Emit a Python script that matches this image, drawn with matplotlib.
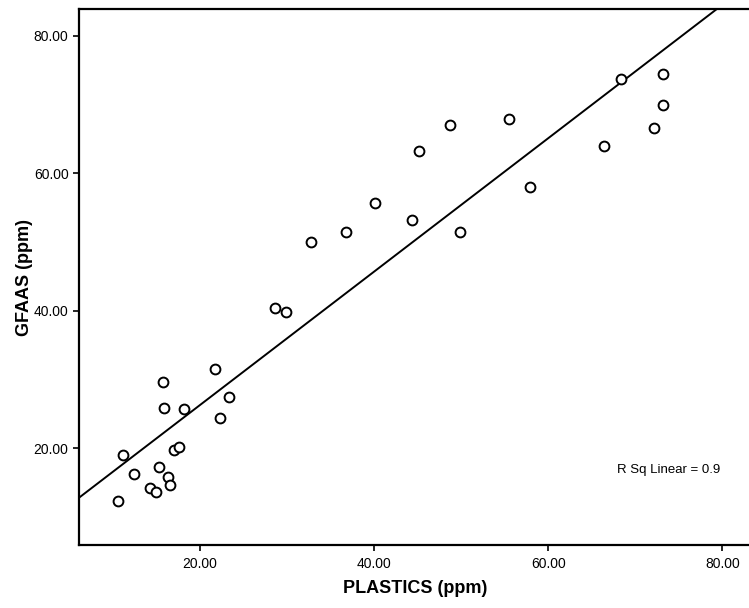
import numpy as np
import matplotlib
matplotlib.use("Agg")
import matplotlib.pyplot as plt
from matplotlib.ticker import FormatStrFormatter

plastics = [10.6, 11.2, 12.4, 14.2, 15.0, 15.3, 16.3, 16.5, 17.0, 17.6,
            15.7, 15.9, 18.2, 22.3, 23.3, 21.7,
            28.6, 29.85, 32.8, 36.8, 40.15, 44.4, 45.2, 48.7, 49.9, 55.5, 57.9,
            66.4, 68.4, 72.2, 73.2, 73.2]
gfaas = [12.3, 19.0, 16.2, 14.2, 13.6, 17.3, 15.8, 14.6, 19.7, 20.2,
         29.7, 25.8, 25.7, 24.4, 27.4, 31.6,
         40.4, 39.9, 50.05, 51.5, 55.7, 53.2, 63.2, 67.1, 51.4, 67.9, 58.05,
         64.0, 73.7, 66.6, 69.9, 74.5]
ticks = [20, 40, 60, 80]
r2_label = "R Sq Linear = 0.9"

plt.rcParams['font.family'] = ['Liberation Sans', 'DejaVu Sans']

fig = plt.figure(figsize=(7.49, 6.08), dpi=100)
ax = fig.add_axes([79/749, 63/608, 672/749, 536/608])

x = np.array(plastics)
y = np.array(gfaas)
xlim = (6.1, 83.3)
ylim = (5.94, 83.9)

ax.scatter(x, y, s=50, facecolors='white', edgecolors='black', linewidths=1.4, zorder=3)

m, b = np.polyfit(x, y, 1)
xx = np.array(xlim)
ax.plot(xx, m * xx + b, color='black', lw=1.4, zorder=2)

ax.set_xlim(*xlim)
ax.set_ylim(*ylim)
ax.set_xticks(ticks)
ax.set_yticks(ticks)
ax.xaxis.set_major_formatter(FormatStrFormatter('%.2f'))
ax.yaxis.set_major_formatter(FormatStrFormatter('%.2f'))
ax.tick_params(axis='both', direction='out', length=4.5, width=1.2, labelsize=10, colors='black')
ax.tick_params(axis='x', pad=4.5)
ax.tick_params(axis='y', pad=3)
ax.tick_params(top=False, right=False)

for s in ['left', 'bottom', 'top']:
    ax.spines[s].set_linewidth(1.6)
    ax.spines[s].set_color('black')
ax.spines['right'].set_visible(False)

ax.set_xlabel('PLASTICS (ppm)', fontsize=13, fontweight='bold')
ax.set_ylabel('GFAAS (ppm)', fontsize=13, fontweight='bold')
ax.xaxis.set_label_coords(0.5, -0.065)
ax.yaxis.set_label_coords(-0.068, 0.5)

ax.text((617 - 79) / 672, (545 - 470) / 536, r2_label, transform=ax.transAxes,
        fontsize=9.5, va='center', ha='left')

fig.savefig('out.png', dpi=100)
